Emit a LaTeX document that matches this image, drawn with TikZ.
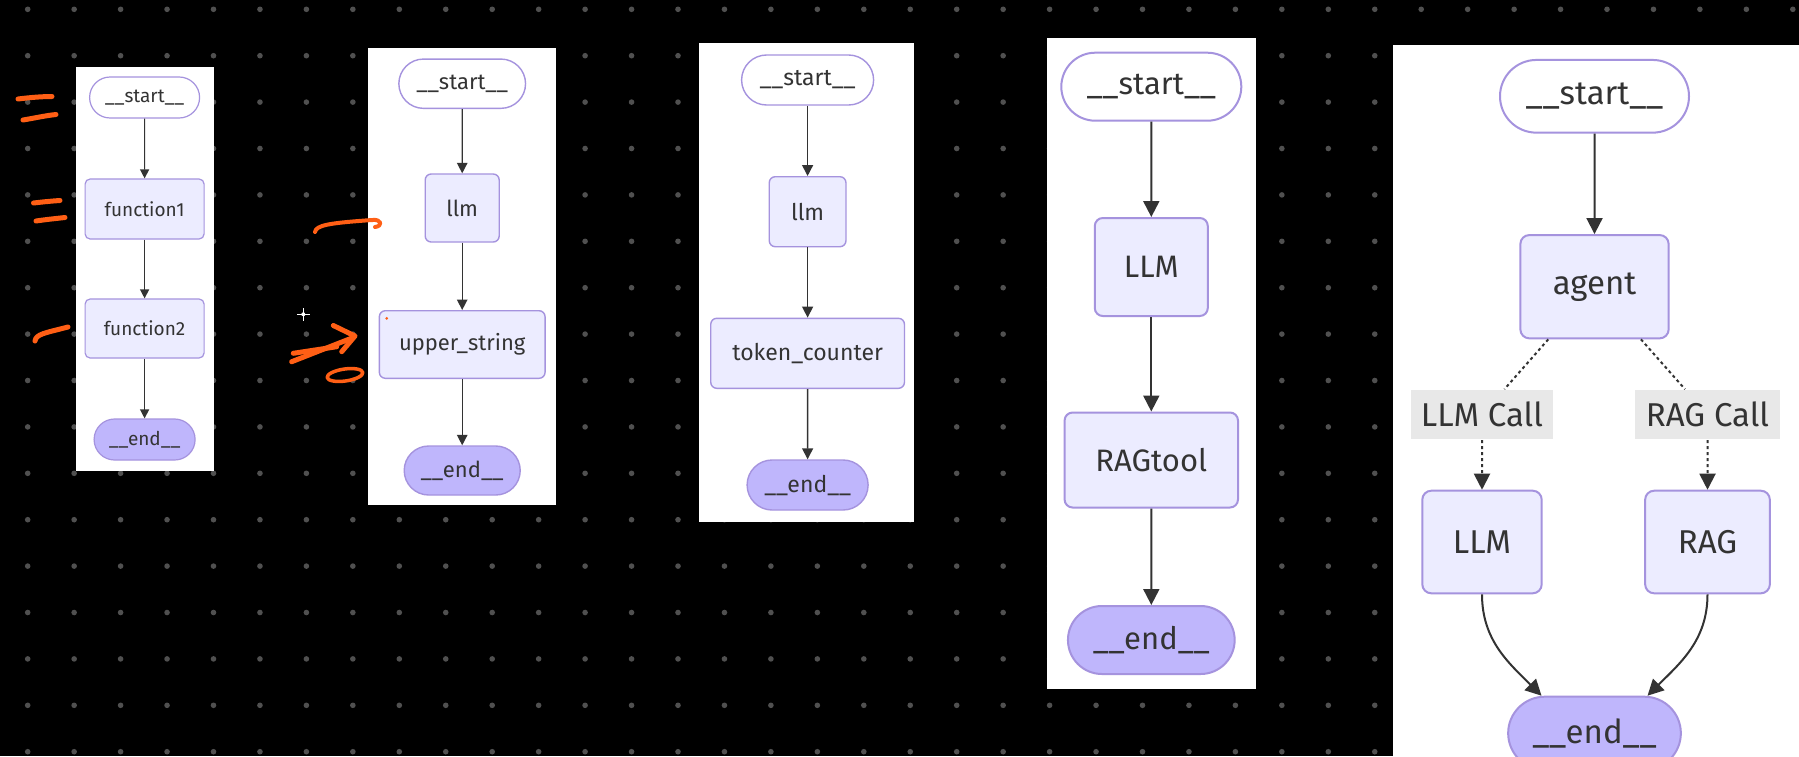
\documentclass[tikz,border=0pt]{standalone}
\usepackage{fontspec}
\setmainfont{Fira Sans}
\usepackage{tikz}
\usetikzlibrary{arrows.meta, shapes.misc}
\usepackage{xcolor}
\definecolor{boxfill}{HTML}{ECECFF}
\definecolor{boxline}{HTML}{A593DE}
\definecolor{endfill}{HTML}{BFB6FC}
\definecolor{edgeline}{HTML}{333333}
\definecolor{nodetext}{HTML}{333333}
\definecolor{labelfill}{HTML}{E8E8E8}
\definecolor{griddot}{HTML}{505050}
\definecolor{pen}{HTML}{FF5F15}

\begin{document}
\begin{tikzpicture}[
		x=1pt, y=-1pt,
		box/.style={
			rectangle,
			rounded corners=#1,
			draw=boxline,
			fill=boxfill,
			text=nodetext,
			inner sep=0pt
		},
		pill/.style={
			rounded rectangle,
			draw=boxline,
			fill=white,
			text=nodetext,
			inner sep=0pt
		},
		closing/.style={
			pill,
			fill=endfill
		},
		tag/.style={
			rectangle,
			fill=labelfill,
			text=nodetext,
			inner sep=0pt
		},
		txt/.style={font=\fontsize{#1}{#1}\selectfont},
		arrow/.style={
			-{Triangle[length=#1, width=#1]},
			draw=edgeline
		},
		dotline/.style={
			arrow=#1,
			dash pattern=on 3pt off 3pt
		},
		scribble/.style={
			draw=pen,
			line width=5pt,
			line cap=round,
			line join=round
		}
		]
		
		% background
		\clip (0,0) rectangle (1799,756);
		\fill[black] (0,0) rectangle (1799,756);
		\foreach \i in {0,...,38}
			\foreach \j in {0,...,16}
				\fill[griddot] (27.7+46.45*\i, 9.3+46.4*\j) circle (2.8);
		
		% white sheets
		\fill[white] (75.7,67.3) rectangle (213.5,470.7);
		\fill[white] (368.3,48.3) rectangle (556,505);
		\fill[white] (699.3,43.3) rectangle (914,521.7);
		\fill[white] (1046.7,38.3) rectangle (1256,689.3);
		\fill[white] (1393.3,45) rectangle (1799,760);
		
		% frst graph
		\begin{scope}[line width=1.2pt, txt=19]
			\node[pill, minimum width=110pt, minimum height=41pt] (start1) at (144.6,97.5) {\_\_start\_\_};
			\node[box=5pt, minimum width=119pt, minimum height=60pt] (function1) at (144.6,209) {function1};
			\node[box=5pt, minimum width=119pt, minimum height=59pt] (function2) at (144.6,328.5) {function2};
			\node[closing, minimum width=101pt, minimum height=41pt] (end1) at (144.6,439.5) {\_\_end\_\_};
			%--
			\draw[arrow=9pt] (start1) -- (function1);
			\draw[arrow=9pt] (function1) -- (function2);
			\draw[arrow=9pt] (function2) -- (end1);
		\end{scope}
		
		% sgnd graph
		\begin{scope}[line width=1.4pt, txt=22]
			\node[pill, minimum width=126.7pt, minimum height=49.3pt] (start2) at (462.2,83.7) {\_\_start\_\_};
			\node[box=6pt, minimum width=74pt, minimum height=68pt] (llm2) at (462.2,208) {llm};
			\node[box=6pt, minimum width=165.7pt, minimum height=67.6pt] (upper) at (462.2,344.5) {upper\_string};
			\node[closing, minimum width=116pt, minimum height=49pt] (end2) at (462.2,470.5) {\_\_end\_\_};
			%--
			\draw[arrow=10.5pt] (start2) -- (llm2);
			\draw[arrow=10.5pt] (llm2) -- (upper);
			\draw[arrow=10.5pt] (upper) -- (end2);
		\end{scope}
		
		% third graph
		\begin{scope}[line width=1.4pt, txt=23]
			\node[pill, minimum width=132pt, minimum height=50pt] (start3) at (807.6,80) {\_\_start\_\_};
			\node[box=6pt, minimum width=76.7pt, minimum height=70pt] (llm3) at (807.6,211.7) {llm};
			\node[box=6pt, minimum width=193.7pt, minimum height=70pt] (counter) at (807.6,353.3) {token\_counter};
			\node[closing, minimum width=121pt, minimum height=50pt] (end3) at (807.6,485) {\_\_end\_\_};
			%--
			\draw[arrow=11pt] (start3) -- (llm3);
			\draw[arrow=11pt] (llm3) -- (counter);
			\draw[arrow=11pt] (counter) -- (end3);
		\end{scope}
		
		% fourth graph
		\begin{scope}[line width=2pt, txt=31]
			\node[pill, minimum width=180pt, minimum height=68pt] (start4) at (1151.3,86.7) {\_\_start\_\_};
			\node[box=8pt, minimum width=113pt, minimum height=98pt] (llm4) at (1151.3,267) {LLM};
			\node[box=8pt, minimum width=173.4pt, minimum height=95pt] (ragtool) at (1151.3,460) {RAGtool};
			\node[closing, minimum width=166.7pt, minimum height=68pt] (end4) at (1151.3,640) {\_\_end\_\_};
			%--
			\draw[arrow=16pt] (start4) -- (llm4);
			\draw[arrow=16pt] (llm4) -- (ragtool);
			\draw[arrow=16pt] (ragtool) -- (end4);
		\end{scope}
		
		% fifth graph
		\begin{scope}[line width=2pt, txt=33]
			\node[pill, minimum width=189pt, minimum height=72.7pt] (start5) at (1594.5,96.3) {\_\_start\_\_};
			\node[box=9pt, minimum width=148.3pt, minimum height=103.3pt] (agent) at (1594.5,286.7) {agent};
			\node[tag, minimum width=142pt, minimum height=49pt] (llmcall) at (1482,414.7) {LLM Call};
			\node[tag, minimum width=145pt, minimum height=49pt] (ragcall) at (1707.5,414.7) {RAG Call};
			\node[box=9pt, minimum width=119.4pt, minimum height=102.6pt] (llm5) at (1482,542) {LLM};
			\node[box=9pt, minimum width=124.7pt, minimum height=102.6pt] (rag5) at (1707.5,542) {RAG};
			\node[closing, minimum width=172.7pt, minimum height=73pt] (end5) at (1594.5,733.2) {\_\_end\_\_};
			%--
			\draw[arrow=16pt] (start5) -- (agent);
			\draw[dotline=16pt] (agent) -- (llmcall) -- (llm5);
			\draw[dotline=16pt] (agent) -- (ragcall) -- (rag5);
			%--
			\draw[arrow=16pt] (llm5.south) to[out=-90, in=135] ([xshift=-53pt]end5.north);
			\draw[arrow=16pt] (rag5.south) to[out=-90, in=45] ([xshift=53pt]end5.north);
		\end{scope}
		
		% pen marks
		\draw[scribble] (18,99) .. controls (30,97.5) and (42,96.5) .. (52,96.5);
		\draw[scribble] (23,120) .. controls (35,118) and (46,115.5) .. (56,114.5);
		\draw[scribble] (33.5,203) .. controls (42,202) and (52,201) .. (60,200.5);
		\draw[scribble] (36,221) .. controls (46,219.5) and (56,218.5) .. (65,217.5);
		\draw[scribble] (35,341) .. controls (36,334) and (45,333) .. (68,327);
		\draw[scribble, line width=4pt] (315,232) .. controls (316,225) and (330,223) .. (372,220) .. controls (382,219) and (383,226) .. (375,227);
		\draw[scribble] (291.7,361.7) -- (353.3,337.5);
		\draw[scribble] (293.3,353.3) -- (336.7,346.7);
		\draw[scribble] (333.3,325.5) -- (355,336) -- (341.7,351.7);
		\draw[scribble, line width=3.5pt, rotate around={8:(345,375)}] (345,375) ellipse (18 and 6);
		\fill[pen] (386.7,318.3) circle (1.5);
		
		% cursor spark
		\fill[white] (303.3,314.3) circle (2);
		\draw[white, line width=0.8pt] (297,314.3) -- (309.6,314.3) (303.3,308) -- (303.3,320.6);
		
	\end{tikzpicture}
\end{document}
